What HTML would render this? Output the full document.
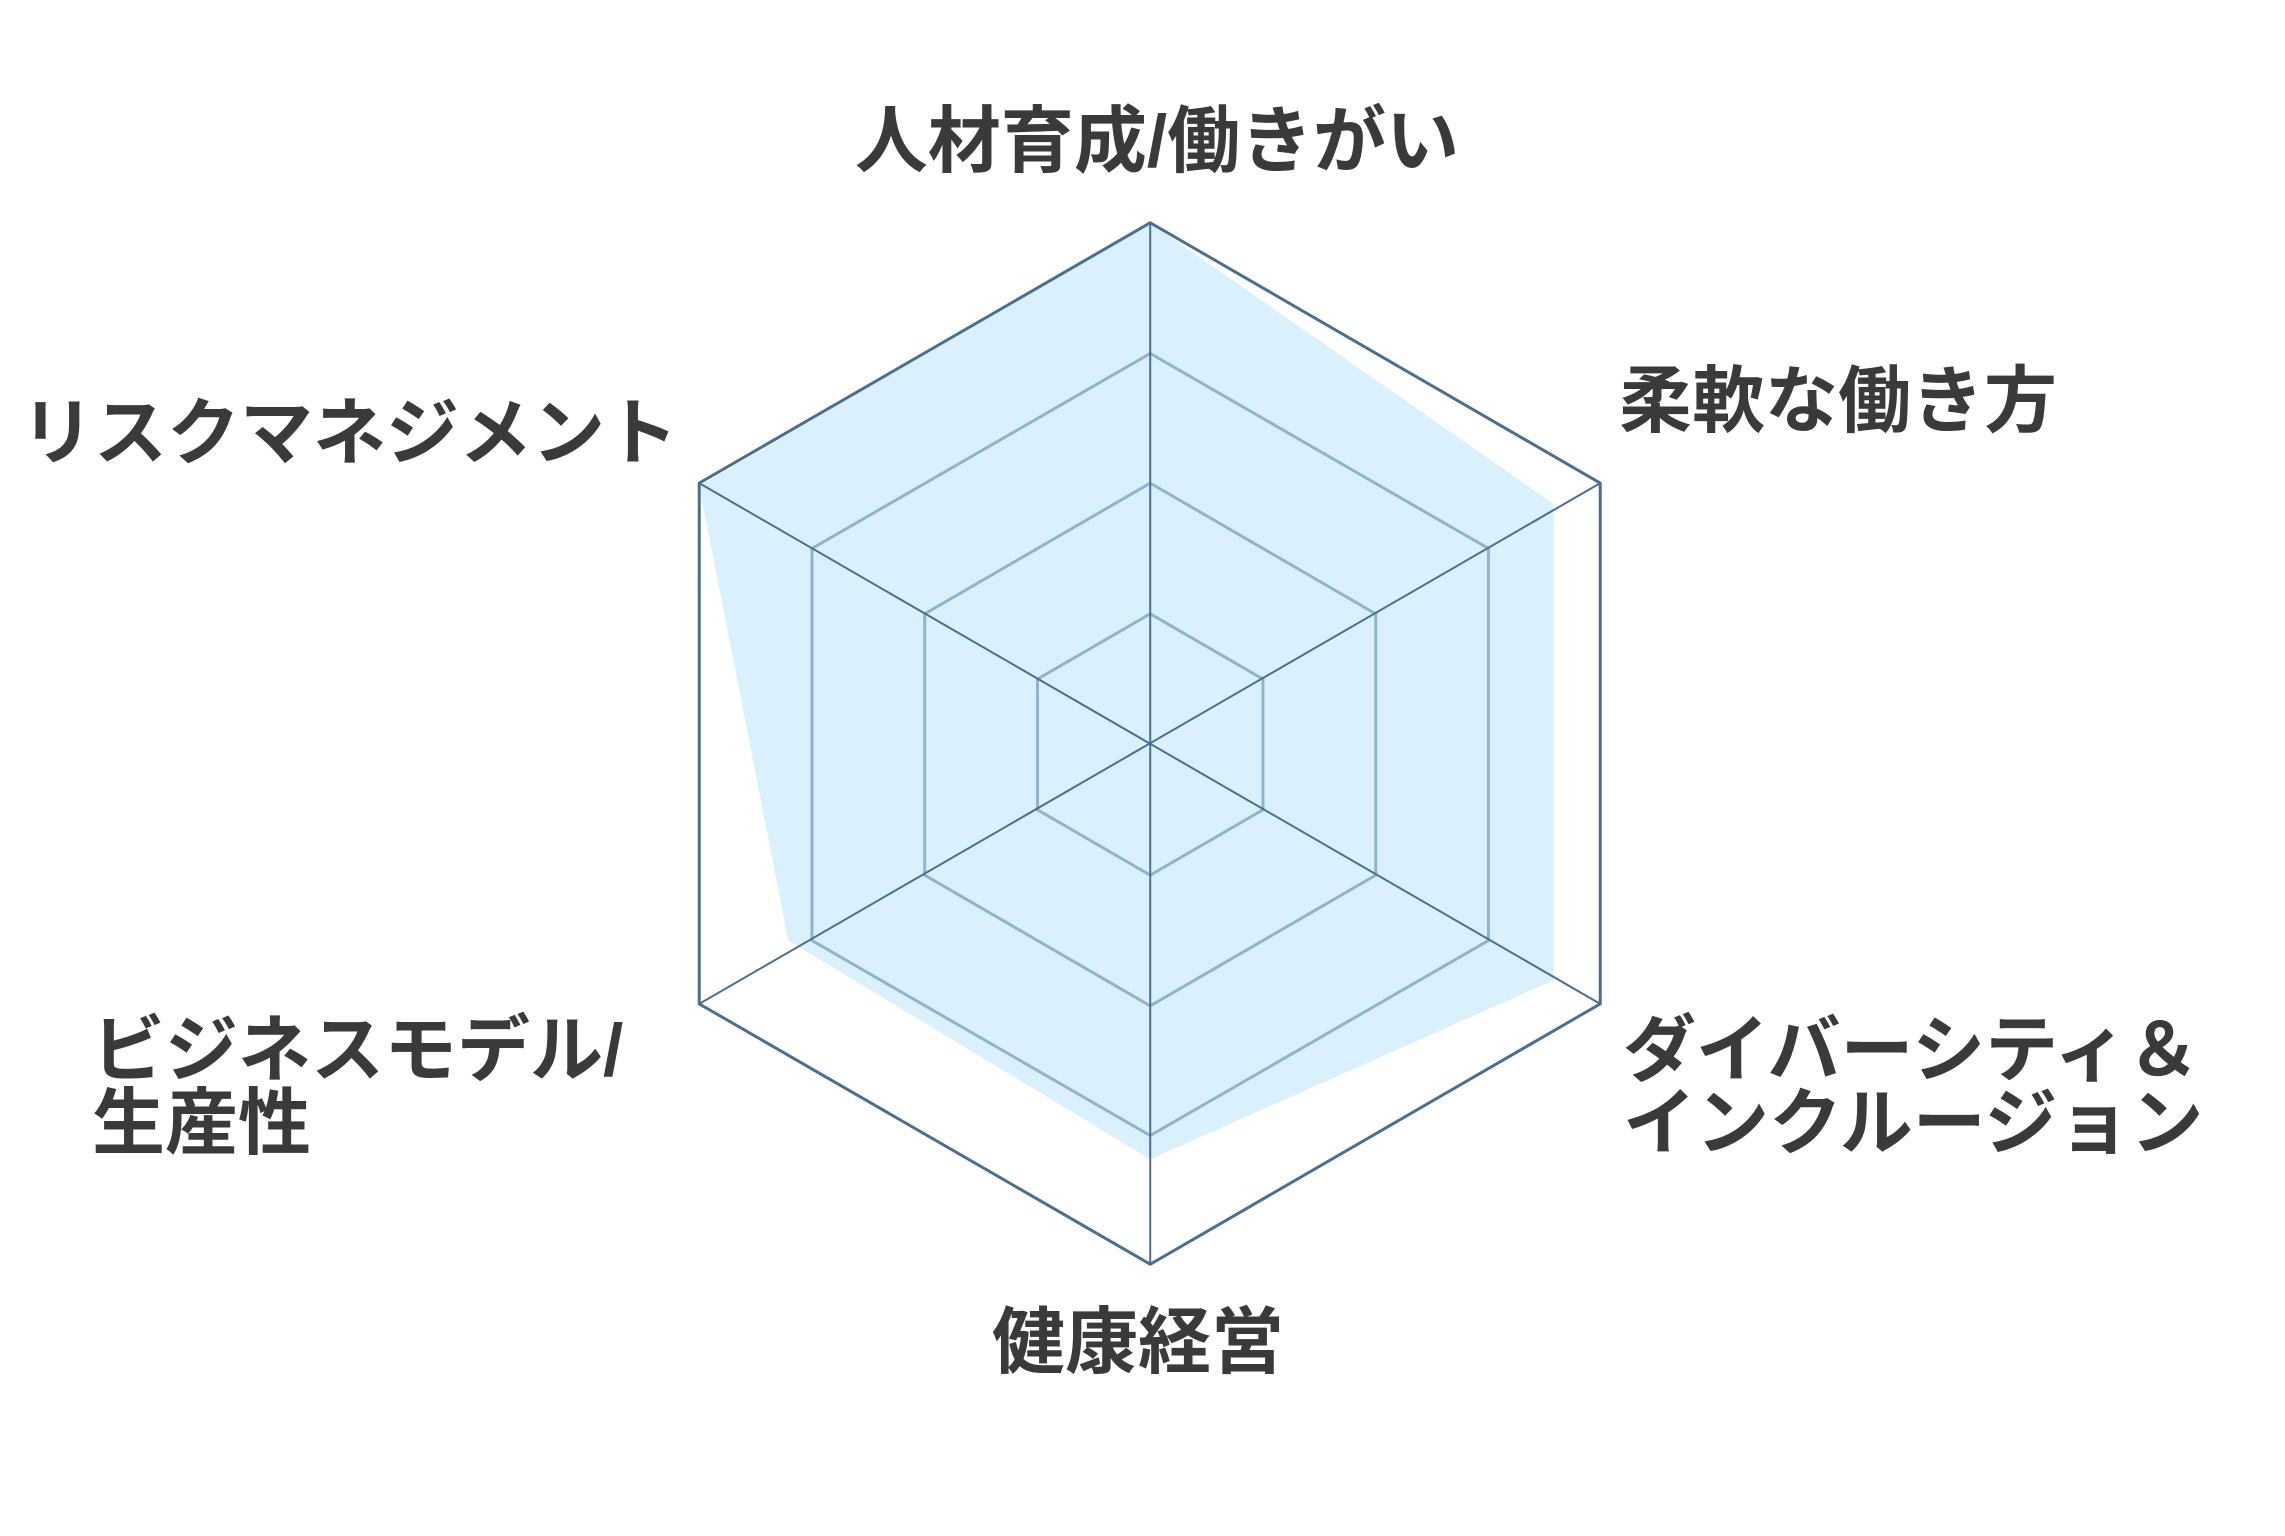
<!DOCTYPE html>
<html><head><meta charset="utf-8"><style>
html,body{margin:0;padding:0;background:#fff;}
svg{display:block;}
text{font-family:"Liberation Sans","Noto Sans CJK JP",sans-serif;font-weight:bold;fill:#3a3a3a;font-size:73px;}
</style></head><body>
<svg width="2285" height="1536" viewBox="0 0 2285 1536" xmlns="http://www.w3.org/2000/svg">
<g transform="translate(2,1) scale(0.989,0.99)">
<polygon points="1161,224 1569,508 1569,989 1161,1170 795,949 705,490" fill="#daf1fd"/>
<g fill="none" stroke="#8fb3cc" stroke-width="3">
<polygon points="1161,619 1275,685 1275,817 1161,883 1047,817 1047,685"/>
<polygon points="1161,487 1389,619 1389,883 1161,1015 933,883 933,619"/>
<polygon points="1161,356 1503,553 1503,949 1161,1146 819,949 819,553"/>
</g>
<g stroke="#4a6d90" stroke-width="2">
<line x1="1161" y1="224" x2="1161" y2="1276"/>
<line x1="705" y1="487" x2="1616" y2="1013"/>
<line x1="705" y1="1013" x2="1616" y2="487"/>
</g>
<polygon points="1161,224 1616,487 1616,1013 1161,1276 705,1013 705,487" fill="none" stroke="#4a6d90" stroke-width="3"/>
</g>
<text x="1157" y="166" text-anchor="middle">人材育成/働きがい</text>
<text x="1619" y="426">柔軟な働き方</text>
<text x="678" y="458" text-anchor="end">リスクマネジメント</text>
<text x="1623" y="1075">ダイバーシティ＆</text>
<text x="1623" y="1148">インクルージョン</text>
<text x="92" y="1075">ビジネスモデル/</text>
<text x="92" y="1148">生産性</text>
<text x="1138" y="1367" text-anchor="middle">健康経営</text>
</svg>
</body></html>
